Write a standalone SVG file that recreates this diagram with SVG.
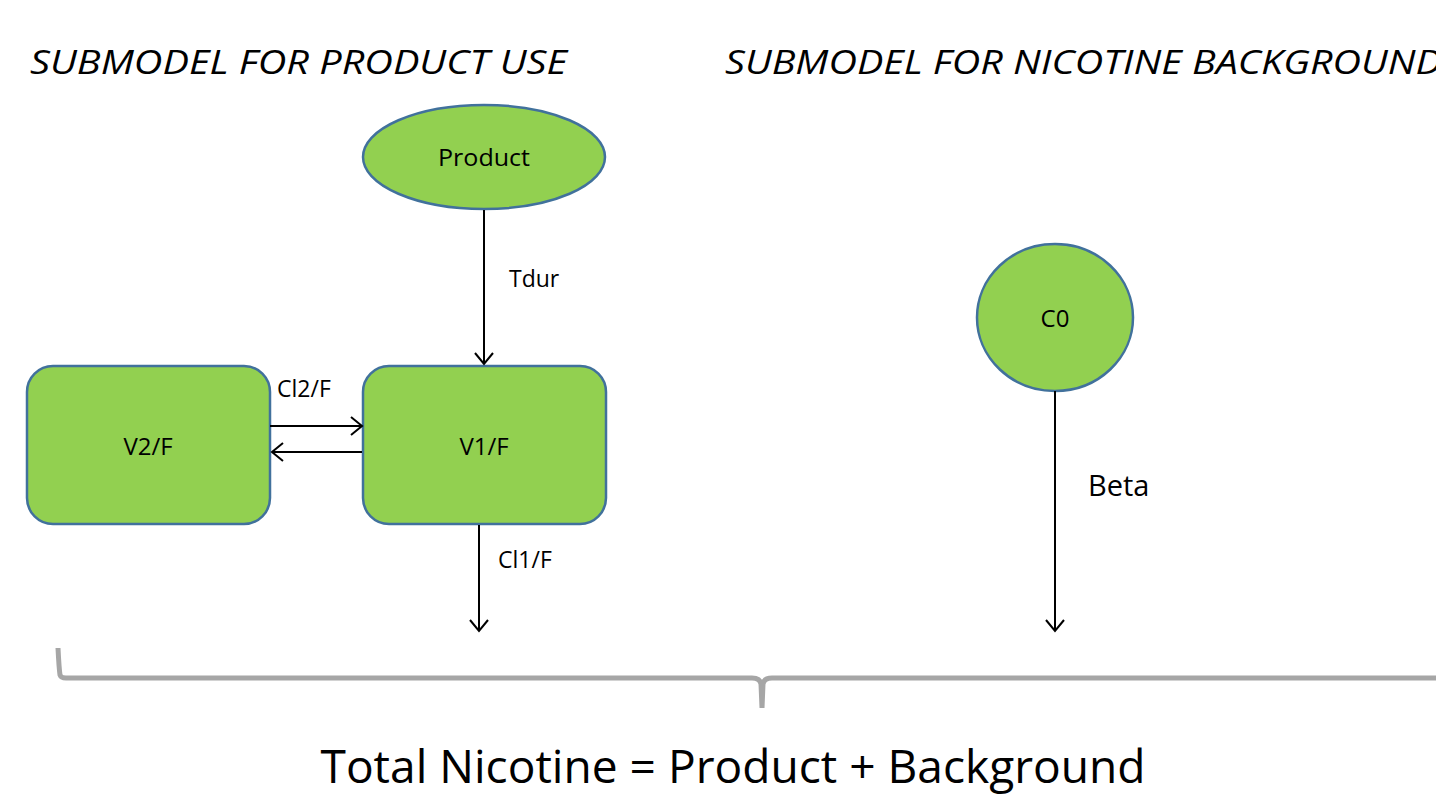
<svg xmlns="http://www.w3.org/2000/svg" width="1436" height="794" viewBox="0 0 1436 794">
<defs>
<marker id="arr" markerUnits="userSpaceOnUse" markerWidth="24" markerHeight="24" refX="20" refY="12" orient="auto" viewBox="0 0 24 24">
<path d="M 9 3 L 20 12 L 9 21" fill="none" stroke="#000" stroke-width="2"/>
</marker>
</defs>
<style>
.node{fill:#92d050;stroke:#41719c;stroke-width:2.5}
.t{font-family:"Open Sans","Liberation Sans",sans-serif;fill:#000}
.c{stroke:#000;stroke-width:2;fill:none;marker-end:url(#arr)}
.title{font-family:"Open Sans","Liberation Sans",sans-serif;font-style:italic;font-size:33px;fill:#000}
</style>
<rect width="1436" height="794" fill="#fff"/>
<text class="title" x="30" y="74" textLength="537" lengthAdjust="spacingAndGlyphs">SUBMODEL FOR PRODUCT USE</text>
<text class="title" x="725" y="74" textLength="717" lengthAdjust="spacingAndGlyphs">SUBMODEL FOR NICOTINE BACKGROUND</text>
<g id="product">
<ellipse class="node" cx="484" cy="157" rx="121" ry="52"/>
<text class="t" x="484" y="166" font-size="24" text-anchor="middle" textLength="92" lengthAdjust="spacingAndGlyphs">Product</text>
</g>
<g id="v1f">
<rect class="node" x="363" y="366" width="243" height="158" rx="26"/>
<text class="t" x="484" y="455" font-size="24" text-anchor="middle">V1/F</text>
</g>
<g id="v2f">
<rect class="node" x="27" y="366" width="243" height="158" rx="26"/>
<text class="t" x="148" y="455" font-size="24" text-anchor="middle">V2/F</text>
</g>
<g id="c0">
<ellipse class="node" cx="1055" cy="317.5" rx="78" ry="73.5"/>
<text class="t" x="1055" y="327" font-size="24" text-anchor="middle">C0</text>
</g>
<g id="connectors">
<line class="c" x1="484" y1="210" x2="484" y2="364"/>
<line class="c" x1="270" y1="426" x2="362" y2="426"/>
<line class="c" x1="362" y1="452" x2="272" y2="452"/>
<line class="c" x1="479" y1="525" x2="479" y2="631"/>
<line class="c" x1="1055" y1="391" x2="1055" y2="631"/>
<text class="t" x="509" y="287" font-size="23">Tdur</text>
<text class="t" x="277" y="397" font-size="23">Cl2/F</text>
<text class="t" x="498" y="568" font-size="23">Cl1/F</text>
<text class="t" x="1088" y="496" font-size="29">Beta</text>
</g>
<path d="M 58 648 Q 59 668 60 675 Q 61 678 66 678 L 752 678 Q 760 678 761 684 L 762 708 L 763 684 Q 764 678 772 678 L 1436 678" fill="none" stroke="#a6a6a6" stroke-width="5"/>
<text class="t" x="733" y="783" font-size="45" text-anchor="middle" textLength="825" lengthAdjust="spacingAndGlyphs">Total Nicotine = Product + Background</text>
</svg>
